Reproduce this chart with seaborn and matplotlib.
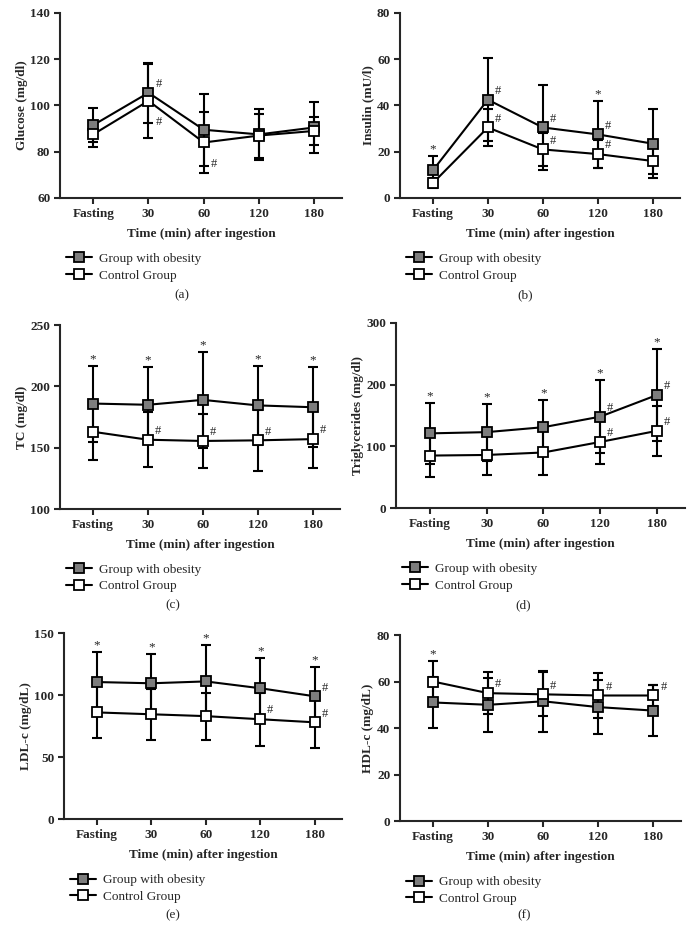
import numpy as np
import pandas as pd
import matplotlib
matplotlib.use('Agg')
import matplotlib.pyplot as plt
import seaborn as sns

# Style (set fonts after seaborn, since it resets font.family)
sns.set_style('ticks')
plt.rcParams['font.family'] = ['Liberation Serif', 'DejaVu Serif']
plt.rcParams['axes.linewidth'] = 1.5

# Categories and groups
times = ['Fasting', '30', '60', '120', '180']
groups = ['Group with obesity', 'Control Group']

# Means and SD
glucose_obese = [91.5, 105.5, 89.5, 87.5, 90.5]
glucose_obese_sd = [7.5, 13, 15.5, 11, 11]
glucose_ctrl = [87.5, 102, 84, 87, 89]
glucose_ctrl_sd = [5.5, 16, 13, 9.5, 6]

insulin_obese = [12, 42.5, 30.5, 27.5, 23.5]
insulin_obese_sd = [6, 18, 18.5, 14.5, 15]
insulin_ctrl = [6.5, 30.5, 21, 19, 16]
insulin_ctrl_sd = [2, 8, 7, 6, 5.5]

tc_obese = [186, 185, 189, 184.5, 183]
tc_obese_sd = [31, 31, 39, 32.5, 32.5]
tc_ctrl = [163, 156.5, 155.5, 156, 157]
tc_ctrl_sd = [23, 22.5, 22, 25, 23.5]

tg_obese = [121, 123, 131, 148, 183]
tg_obese_sd = [50, 46, 44, 59, 75]
tg_ctrl = [85, 86, 90, 107, 125]
tg_ctrl_sd = [35, 33, 37, 36, 41]

ldl_obese = [110.5, 109.5, 111, 105.5, 99]
ldl_obese_sd = [24, 23.5, 29, 24.5, 24]
ldl_ctrl = [86, 84.5, 83, 80.5, 78]
ldl_ctrl_sd = [21, 20.5, 19, 21.5, 20.5]

hdl_obese = [51, 50, 51.5, 49, 47.5]
hdl_obese_sd = [11, 11.5, 13, 11.5, 11]
hdl_ctrl = [60, 55, 54.5, 54, 54]
hdl_ctrl_sd = [9, 9, 9.5, 9.5, 4.5]

# Significance marks: index lists
panels = [
    dict(rect=[0.0865, 0.7907, 0.4063, 0.1956], ylabel='Glucose (mg/dl)', ylim=(60, 140), step=20,
         obese=(glucose_obese, glucose_obese_sd), ctrl=(glucose_ctrl, glucose_ctrl_sd),
         stars=[], hash_obese=[1], hash_ctrl=[1, 2], ctrl_dy=-11, letter='(a)', lpos=(182, 295)),
    dict(rect=[0.5764, 0.7907, 0.4035, 0.1956], ylabel='Insulin (mU/l)', ylim=(0, 80), step=20,
         obese=(insulin_obese, insulin_obese_sd), ctrl=(insulin_ctrl, insulin_ctrl_sd),
         stars=[0, 3], hash_obese=[1, 2, 3], hash_ctrl=[1, 2, 3], ctrl_dy=2, letter='(b)', lpos=(525, 295)),
    dict(rect=[0.0865, 0.4619, 0.4035, 0.1945], ylabel='TC (mg/dl)', ylim=(100, 250), step=50,
         obese=(tc_obese, tc_obese_sd), ctrl=(tc_ctrl, tc_ctrl_sd),
         stars=[0, 1, 2, 3, 4], hash_obese=[], hash_ctrl=[1, 2, 3, 4], ctrl_dy=2, letter='(c)', lpos=(173, 605)),
    dict(rect=[0.5706, 0.4630, 0.4164, 0.1956], ylabel='Triglycerides (mg/dl)', ylim=(0, 300), step=100,
         obese=(tg_obese, tg_obese_sd), ctrl=(tg_ctrl, tg_ctrl_sd),
         stars=[0, 1, 2, 3, 4], hash_obese=[3, 4], hash_ctrl=[3, 4], ctrl_dy=2, letter='(d)', lpos=(523, 605)),
    dict(rect=[0.0922, 0.1342, 0.4006, 0.1966], ylabel='LDL-c (mg/dL)', ylim=(0, 150), step=50,
         obese=(ldl_obese, ldl_obese_sd), ctrl=(ldl_ctrl, ldl_ctrl_sd),
         stars=[0, 1, 2, 3, 4], hash_obese=[4], hash_ctrl=[3, 4], ctrl_dy=2, letter='(e)', lpos=(173, 915)),
    dict(rect=[0.5764, 0.1321, 0.4049, 0.1966], ylabel='HDL-c (mg/dL)', ylim=(0, 80), step=20,
         obese=(hdl_obese, hdl_obese_sd), ctrl=(hdl_ctrl, hdl_ctrl_sd),
         stars=[0], hash_obese=[], hash_ctrl=[1, 2, 3, 4], ctrl_dy=2, letter='(f)', lpos=(524, 915)),
]

W, H = 694, 946
fig = plt.figure(figsize=(W / 100, H / 100), dpi=100)

x = np.arange(len(times))
styles = {
    'Group with obesity': dict(markerfacecolor='#7d7d7d'),
    'Control Group': dict(markerfacecolor='white'),
}

for p in panels:
    ax = fig.add_axes(p['rect'])
    df = pd.DataFrame({
        'pos': np.concatenate([x, x]),
        'value': list(p['obese'][0]) + list(p['ctrl'][0]),
        'sd': list(p['obese'][1]) + list(p['ctrl'][1]),
        'group': [groups[0]] * len(x) + [groups[1]] * len(x),
    })

    for g in groups:
        sub = df[df['group'] == g]
        ax.errorbar(sub['pos'], sub['value'], yerr=sub['sd'], fmt='none', ecolor='black',
                    elinewidth=1.5, capsize=3.5, capthick=1.5, zorder=2)
        sns.lineplot(data=sub, x='pos', y='value', ax=ax, color='black', lw=1.5,
                     marker='s', markersize=7, markeredgecolor='black', markeredgewidth=1.3,
                     label=g, zorder=3, errorbar=None, **styles[g])

    # significance marks
    for i in p['stars']:
        top = max(p['obese'][0][i] + p['obese'][1][i], p['ctrl'][0][i] + p['ctrl'][1][i])
        ax.annotate('*', (x[i], top), xytext=(0, 0.5), textcoords='offset points',
                    ha='center', va='bottom', fontsize=9.5)
    for i in p['hash_obese']:
        ax.annotate('#', (x[i], p['obese'][0][i]), xytext=(5, 2), textcoords='offset points',
                    ha='left', va='bottom', fontsize=9)
    for i in p['hash_ctrl']:
        va = 'bottom' if p['ctrl_dy'] > 0 else 'top'
        ax.annotate('#', (x[i], p['ctrl'][0][i]), xytext=(5, p['ctrl_dy']), textcoords='offset points',
                    ha='left', va=va, fontsize=9)

    ax.set_xlim(-0.6, 4.5)
    ax.set_ylim(*p['ylim'])
    ax.set_yticks(np.arange(p['ylim'][0], p['ylim'][1] + 1, p['step']))
    ax.set_xticks(x)
    ax.set_xticklabels(times)
    sns.despine(ax=ax)
    ax.tick_params(direction='out', length=4, width=1.5, labelsize=9.5, pad=3)
    for lbl in ax.get_xticklabels() + ax.get_yticklabels():
        lbl.set_fontweight('bold')
    ax.set_xlabel('Time (min) after ingestion', fontsize=9.5, fontweight='bold', labelpad=6)
    ax.set_ylabel(p['ylabel'], fontsize=9.5, fontweight='bold', labelpad=2)

    ax.legend(loc='upper left', bbox_to_anchor=(0.02, -0.295), frameon=False, fontsize=9.5,
              borderaxespad=0, borderpad=0, handlelength=2.0, handletextpad=0.5, labelspacing=0.35)

    fig.text(p['lpos'][0] / W, 1 - p['lpos'][1] / H, p['letter'], ha='center', va='center', fontsize=9.5)

fig.savefig('out.png', dpi=100)
